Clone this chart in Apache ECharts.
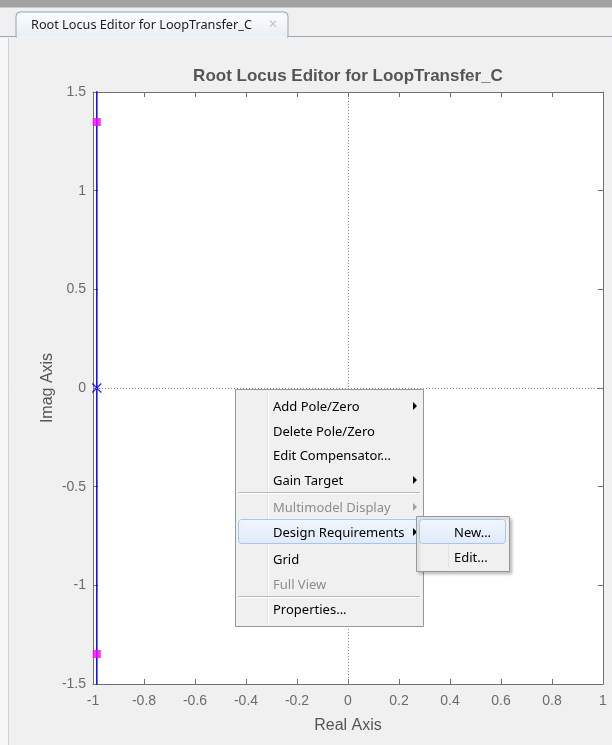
<!DOCTYPE html>
<html>
<head>
<meta charset="utf-8">
<script src="https://cdn.jsdelivr.net/npm/echarts@6/dist/echarts.min.js"></script>
<style>
html,body{margin:0;padding:0;background:#f0f0f0;}
#c{width:612px;height:745px;}
</style>
</head>
<body>
<div id="c"></div>
<script>
// ---- data ----
const chartTitle = 'Root Locus Editor for LoopTransfer_C';
const tabTitle = 'Root Locus Editor for LoopTransfer_C';
const xAxisName = 'Real Axis';
const yAxisName = 'Imag Axis';
const locusReal = [-0.985, -0.985];
const locusImag = [-1.7, 1.7];
const openPoleReal = [-0.985];
const openPoleImag = [0];
const closedPoleReal = [-0.985, -0.985];
const closedPoleImag = [1.348, -1.348];
const menuLabels = ['Add Pole/Zero', 'Delete Pole/Zero', 'Edit Compensator...', 'Gain Target', 'Multimodel Display', 'Design Requirements', 'Grid', 'Full View', 'Properties...'];
const menuEnabled = [true, true, true, true, false, true, true, false, true];
const menuSubmenu = [true, false, false, true, true, true, false, false, false];
const subLabels = ['New...', 'Edit...'];

// ---- layout ----
const G = {left: 93, top: 92, width: 510, height: 592};
const menuY = [407, 432, 456, 481, 508, 533, 560, 585, 610];
const subY = [533, 558];

const chart = echarts.init(document.getElementById('c'), null, {renderer: 'canvas'});

const g = [];
// window chrome
g.push({type: 'rect', shape: {x: 0, y: 0, width: 612, height: 7}, style: {fill: '#a3a3a3'}, z: 100});
g.push({type: 'rect', shape: {x: 0, y: 7, width: 612, height: 1}, style: {fill: '#c8c8c8'}, z: 100});
g.push({type: 'line', shape: {x1: 0, y1: 36.5, x2: 612, y2: 36.5}, style: {stroke: '#9aaabb', lineWidth: 1}, z: 100});
g.push({type: 'rect', shape: {x: 16, y: 12, width: 272, height: 25, r: [4, 4, 0, 0]},
  style: {fill: new echarts.graphic.LinearGradient(0, 0, 0, 1, [{offset: 0, color: '#fbfcfe'}, {offset: 1, color: '#e9eef5'}]), stroke: '#8fa3bb', lineWidth: 1}, z: 101});
g.push({type: 'rect', shape: {x: 17, y: 36, width: 270, height: 2}, style: {fill: '#eef2f7'}, z: 102});
g.push({type: 'text', style: {text: tabTitle, x: 31, y: 25, font: '12.7px "Noto Sans"', fill: '#1e1e1e', textVerticalAlign: 'middle'}, z: 103});
g.push({type: 'text', style: {text: '\u2715', x: 273, y: 25, font: 'bold 12px "DejaVu Sans"', fill: '#c4c4c4', textAlign: 'center', textVerticalAlign: 'middle'}, z: 103});
g.push({type: 'line', shape: {x1: 8.5, y1: 38, x2: 8.5, y2: 745}, style: {stroke: '#d2d2d2', lineWidth: 1}, z: 100});
g.push({type: 'rect', shape: {x: 0, y: 38, width: 8, height: 707}, style: {fill: '#f7f7f7'}, z: 99});

// context menu
const MX = 235, MYT = 389, MW = 188, MH = 237;
g.push({type: 'rect', shape: {x: MX + 0.5, y: MYT + 0.5, width: MW, height: MH}, style: {fill: '#f0f0f0', stroke: '#979797', lineWidth: 1}, z: 110});
g.push({type: 'line', shape: {x1: 267.5, y1: MYT + 3, x2: 267.5, y2: MYT + MH - 2}, style: {stroke: '#e2e3e3', lineWidth: 1}, z: 111});
g.push({type: 'line', shape: {x1: 268.5, y1: MYT + 3, x2: 268.5, y2: MYT + MH - 2}, style: {stroke: '#ffffff', lineWidth: 1}, z: 111});
[492.5, 596.5].forEach(function (sy) {
  g.push({type: 'line', shape: {x1: 238, y1: sy, x2: 420, y2: sy}, style: {stroke: '#b9b9b9', lineWidth: 1}, z: 112});
  g.push({type: 'line', shape: {x1: 238, y1: sy + 1, x2: 420, y2: sy + 1}, style: {stroke: '#ffffff', lineWidth: 1}, z: 112});
});
// highlight of Design Requirements
g.push({type: 'rect', shape: {x: 238.5, y: 519.5, width: 182, height: 24, r: 3},
  style: {fill: new echarts.graphic.LinearGradient(0, 0, 0, 1, [{offset: 0, color: '#f1f6fd'}, {offset: 1, color: '#dfeaf9'}]), stroke: '#a8c6ec', lineWidth: 1}, z: 112});
menuLabels.forEach(function (t, i) {
  g.push({type: 'text', style: {text: t, x: 273, y: menuY[i], font: '13px "Noto Sans"', fill: menuEnabled[i] ? '#000000' : '#8d8d8d', textVerticalAlign: 'middle'}, z: 113});
  if (menuSubmenu[i]) {
    const ay = menuY[i] - 1;
    g.push({type: 'polygon', shape: {points: [[413, ay - 4], [417, ay], [413, ay + 4]]}, style: {fill: menuEnabled[i] ? '#000000' : '#a0a0a0'}, z: 113});
  }
});
// submenu
const SX = 416, SYT = 516, SW = 93, SH = 55;
g.push({type: 'rect', shape: {x: SX + 0.5, y: SYT + 0.5, width: SW, height: SH}, style: {fill: '#f0f0f0', stroke: '#979797', lineWidth: 1, shadowBlur: 3, shadowColor: 'rgba(0,0,0,0.25)', shadowOffsetX: 2, shadowOffsetY: 2}, z: 120});
g.push({type: 'line', shape: {x1: 448.5, y1: SYT + 3, x2: 448.5, y2: SYT + SH - 2}, style: {stroke: '#e2e3e3', lineWidth: 1}, z: 121});
g.push({type: 'rect', shape: {x: 419.5, y: 519.5, width: 86, height: 24, r: 3},
  style: {fill: new echarts.graphic.LinearGradient(0, 0, 0, 1, [{offset: 0, color: '#f1f6fd'}, {offset: 1, color: '#dfeaf9'}]), stroke: '#a8c6ec', lineWidth: 1}, z: 122});
subLabels.forEach(function (t, i) {
  g.push({type: 'text', style: {text: t, x: 454, y: subY[i], font: '13px "Noto Sans"', fill: '#000000', textVerticalAlign: 'middle'}, z: 123});
});

const axisColor = '#707070';
const labelColor = '#6b6b6b';
const font = 'Liberation Sans';

const option = {
  backgroundColor: '#f0f0f0',
  animation: false,
  title: {
    text: chartTitle, left: G.left + G.width / 2 - 5, top: 63, textAlign: 'center',
    textStyle: {fontFamily: font, fontSize: 17, fontWeight: 'bold', color: '#555555'}
  },
  grid: {left: G.left, top: G.top, width: G.width, height: G.height, show: true, backgroundColor: '#ffffff', borderWidth: 0},
  xAxis: [{
    type: 'value', min: -1, max: 1, interval: 0.2, position: 'bottom',
    name: xAxisName, nameLocation: 'middle', nameGap: 34, nameMoveOverlap: false,
    nameTextStyle: {fontFamily: font, fontSize: 16, color: '#555555'},
    axisLine: {show: true, onZero: false, lineStyle: {color: axisColor, width: 1}},
    axisTick: {show: true, inside: true, length: 5, lineStyle: {color: axisColor}},
    axisLabel: {fontFamily: font, fontSize: 14, color: labelColor, margin: 10},
    splitLine: {show: false}
  }, {
    type: 'value', min: -1, max: 1, interval: 0.2, position: 'top',
    axisLine: {show: true, onZero: false, lineStyle: {color: axisColor, width: 1}},
    axisTick: {show: true, inside: true, length: 5, lineStyle: {color: axisColor}},
    axisLabel: {show: false}, splitLine: {show: false}
  }],
  yAxis: [{
    type: 'value', min: -1.5, max: 1.5, interval: 0.5, position: 'left',
    name: yAxisName, nameLocation: 'middle', nameGap: 37, nameMoveOverlap: false,
    nameTextStyle: {fontFamily: font, fontSize: 16, color: '#555555'},
    axisLine: {show: true, onZero: false, lineStyle: {color: axisColor, width: 1}},
    axisTick: {show: true, inside: true, length: 5, lineStyle: {color: axisColor}},
    axisLabel: {fontFamily: font, fontSize: 14, color: labelColor, margin: 7},
    splitLine: {show: false}
  }, {
    type: 'value', min: -1.5, max: 1.5, interval: 0.5, position: 'right',
    axisLine: {show: true, onZero: false, lineStyle: {color: axisColor, width: 1}},
    axisTick: {show: true, inside: true, length: 5, lineStyle: {color: axisColor}},
    axisLabel: {show: false}, splitLine: {show: false}
  }],
  series: [{
    type: 'line', name: 'locus', xAxisIndex: 0, yAxisIndex: 0,
    data: locusReal.map(function (r, i) { return [r, locusImag[i]]; }),
    showSymbol: false, symbol: 'none', clip: true,
    lineStyle: {color: '#0000ff', width: 1.5},
    markLine: {
      silent: true, symbol: 'none', label: {show: false},
      lineStyle: {color: '#8a8a8a', type: [1, 2], width: 1},
      data: [{xAxis: 0}, {yAxis: 0}]
    },
    z: 3
  }, {
    type: 'scatter', name: 'open-loop poles',
    data: openPoleReal.map(function (r, i) { return [r, openPoleImag[i]]; }),
    symbol: 'path://M0,0L10,10M10,0L0,10', symbolSize: 9,
    itemStyle: {color: 'none', borderColor: '#0000ff', borderWidth: 1.5},
    z: 4
  }, {
    type: 'scatter', name: 'closed-loop poles',
    data: closedPoleReal.map(function (r, i) { return [r, closedPoleImag[i]]; }),
    symbol: 'rect', symbolSize: 8,
    itemStyle: {color: '#ff00ff'},
    z: 5
  }],
  graphic: g
};
chart.setOption(option);
</script>
</body>
</html>
